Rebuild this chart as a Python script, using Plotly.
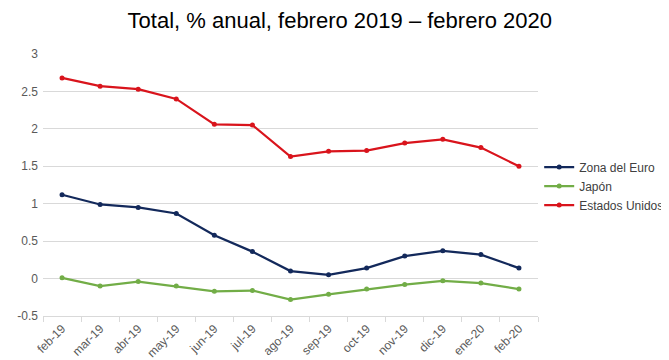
import plotly.graph_objects as go

months = ["feb-19", "mar-19", "abr-19", "may-19", "jun-19", "jul-19", "ago-19",
          "sep-19", "oct-19", "nov-19", "dic-19", "ene-20", "feb-20"]
zona_euro = [1.12, 0.99, 0.95, 0.87, 0.58, 0.36, 0.10, 0.05, 0.14, 0.30, 0.37, 0.32, 0.14]
japon = [0.01, -0.10, -0.04, -0.10, -0.17, -0.16, -0.28, -0.21, -0.14, -0.08, -0.03, -0.06, -0.14]
estados_unidos = [2.68, 2.57, 2.53, 2.40, 2.06, 2.05, 1.63, 1.70, 1.71, 1.81, 1.86, 1.75, 1.50]
y_ticks = [-0.5, 0, 0.5, 1, 1.5, 2, 2.5, 3]

series = [
    ("Zona del Euro", zona_euro, "#13295B"),
    ("Japón", japon, "#72AD47"),
    ("Estados Unidos", estados_unidos, "#D9141C"),
]

fig = go.Figure()
for name, vals, col in series:
    fig.add_trace(go.Scatter(
        x=months, y=vals, name=name, mode="lines+markers",
        line=dict(color=col, width=2.2),
        marker=dict(color=col, size=5),
    ))

fig.update_layout(
    width=669, height=360,
    margin=dict(l=35, r=139, t=46, b=52),
    paper_bgcolor="white", plot_bgcolor="white",
    font=dict(family="Liberation Sans, Arial, sans-serif", color="#595959", size=12),
    title=dict(text="Total, % anual, febrero 2019 – febrero 2020",
               x=0.496, xanchor="center", y=0.966, yanchor="middle",
               font=dict(size=22, color="#000000")),
    legend=dict(xref="container", yref="paper", x=0.794, y=0.496,
                xanchor="left", yanchor="middle",
                font=dict(size=12, color="#404040"), tracegroupgap=0,
                itemwidth=30, bgcolor="rgba(0,0,0,0)"),
    xaxis=dict(
        type="category", range=[-0.5, len(months) - 0.5],
        tickangle=-45, showgrid=False, automargin=False,
        showline=True, linecolor="#D9D9D9", linewidth=1,
        ticks="outside", tickson="boundaries", ticklen=5, tickcolor="#D9D9D9",
        tickfont=dict(size=12, color="#595959"),
    ),
    yaxis=dict(
        range=[-0.5, 3], tickvals=y_ticks, ticktext=[str(v) for v in y_ticks],
        showgrid=True, gridcolor="#D9D9D9", gridwidth=1, automargin=False,
        zeroline=False, showline=False, ticks="", ticklabelstandoff=4,
        tickfont=dict(size=12, color="#595959"),
    ),
)

fig.write_html("out.html")
